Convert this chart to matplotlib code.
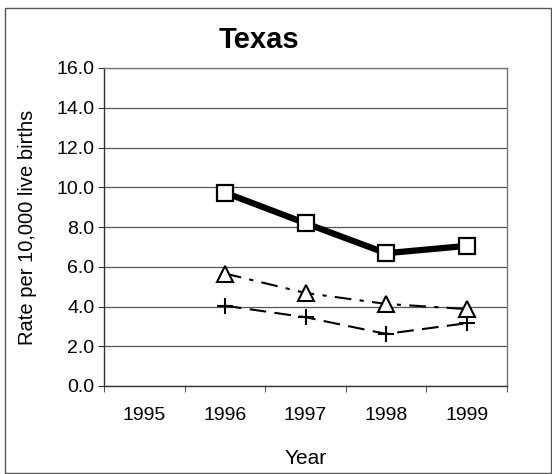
import matplotlib
matplotlib.use("Agg")
import matplotlib.pyplot as plt
from matplotlib.patches import Rectangle

plt.rcParams['font.family'] = ['Liberation Sans', 'DejaVu Sans']

categories = ["1995", "1996", "1997", "1998", "1999"]
series_square = [None, 9.73, 8.19, 6.68, 7.05]
series_triangle = [None, 5.66, 4.68, 4.13, 3.87]
series_plus = [None, 4.04, 3.46, 2.62, 3.16]
yticks = [0, 2, 4, 6, 8, 10, 12, 14, 16]

fig = plt.figure(figsize=(5.52, 4.74), dpi=100)
# outer border
fig.patches.append(Rectangle((5/552, 0.002), 1 - 5/552 - 0.002, 1 - 8/474 - 0.002,
                             transform=fig.transFigure, fill=False,
                             edgecolor='#555555', linewidth=1.0))

ax = fig.add_axes([104/552, 1 - 386/474, (507 - 104)/552, (386 - 68)/474])

x = list(range(len(categories)))

def pts(vals):
    xs = [i for i, v in zip(x, vals) if v is not None]
    ys = [v for v in vals if v is not None]
    return xs, ys

xs, ys = pts(series_plus)
ax.plot(xs, ys, color='black', linewidth=1.5, dashes=(8, 4),
        marker='+', markersize=12, markeredgewidth=1.5, zorder=3)
xs, ys = pts(series_triangle)
ax.plot(xs, ys, color='black', linewidth=1.5, dashes=(8, 4, 2, 4),
        marker='^', markersize=11, markerfacecolor='white',
        markeredgecolor='black', markeredgewidth=1.5, zorder=3)
xs, ys = pts(series_square)
ax.plot(xs, ys, color='black', linewidth=4.5, solid_joinstyle='miter',
        marker='s', markersize=11, markerfacecolor='white',
        markeredgecolor='black', markeredgewidth=1.6, zorder=4)

ax.set_xlim(-0.5, len(categories) - 0.5)
ax.set_ylim(0, 16)
ax.set_yticks(yticks)
ax.set_yticklabels([f"{v:.1f}" for v in yticks], fontsize=14)
ax.set_xticks(x)
ax.set_xticklabels(categories, fontsize=14)
ax.tick_params(axis='x', length=0, pad=15)
ax.set_xticks([i - 0.5 for i in range(len(categories) + 1)], minor=True)
ax.tick_params(axis='x', which='minor', length=4, color='#333333', direction='out')
ax.tick_params(axis='y', length=4, color='#333333', direction='out', pad=3)

ax.grid(axis='y', color='#555555', linewidth=0.9)
ax.set_axisbelow(True)
for side in ['top', 'right']:
    ax.spines[side].set_color('#777777')
    ax.spines[side].set_linewidth(1.0)
for side in ['left', 'bottom']:
    ax.spines[side].set_color('#333333')
    ax.spines[side].set_linewidth(1.0)

fig.text(259/552, 1 - 40/474, "Texas", fontsize=21, fontweight='bold',
         ha='center', va='center')
ax.set_ylabel("Rate per 10,000 live births", fontsize=14.5, labelpad=14)
ax.set_xlabel("Year", fontsize=15, labelpad=18)

fig.savefig("out.png", dpi=100)
